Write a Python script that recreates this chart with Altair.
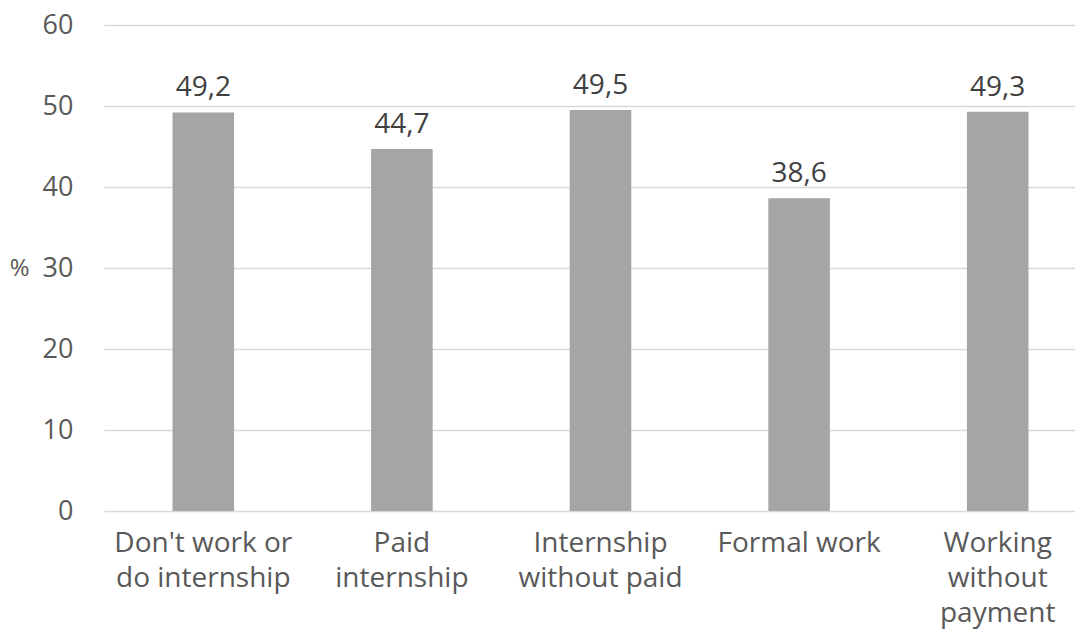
import altair as alt
import pandas as pd

categories = ["Don't work or|do internship", "Paid|internship", "Internship|without paid",
              "Formal work", "Working|without|payment"]
values = [49.2, 44.7, 49.5, 38.6, 49.3]

df = pd.DataFrame({"cat": categories, "val": values})
df["label"] = [f"{v:.1f}".replace(".", ",") for v in values]

FONT = "Open Sans"

x = alt.X("cat:N", sort=categories, title=None,
          scale=alt.Scale(paddingInner=0.69, paddingOuter=0.345, range=[0, 993]),
          axis=alt.Axis(labelExpr="split(datum.label, '|')", labelAngle=0,
                        labelFontSize=28, labelFont=FONT, labelColor="#595959",
                        labelLineHeight=35, labelPadding=18, ticks=False,
                        domain=False, labelLimit=300))
y = alt.Y("val:Q", title="%",
          scale=alt.Scale(domain=[0, 60]),
          axis=alt.Axis(values=[0, 10, 20, 30, 40, 50, 60], ticks=False, domain=False,
                        labelFontSize=27, labelFont=FONT, labelColor="#595959",
                        labelPadding=31, gridColor="#D9D9D9", gridWidth=1.5,
                        titleAngle=0, titleAlign="right", titleBaseline="middle",
                        titleX=-75, titleY=243, titleFontSize=24, titleFont=FONT,
                        titleFontWeight="normal", titleColor="#595959"))

bars = alt.Chart(df).mark_bar(color="#A5A5A5").encode(x=x, y=y)
text = alt.Chart(df).mark_text(baseline="alphabetic", dy=-16, fontSize=28, font=FONT,
                               color="#404040").encode(
    x=alt.X("cat:N", sort=categories), y="val:Q", text="label:N")

chart = (bars + text).properties(
    width=971, height=486,
    autosize=alt.AutoSizeParams(type="none"),
    padding={"left": 96, "top": 17, "right": 0, "bottom": 124}
).configure_view(stroke=None)

chart.save("out.html", embed_options={"renderer": "svg", "actions": False})
